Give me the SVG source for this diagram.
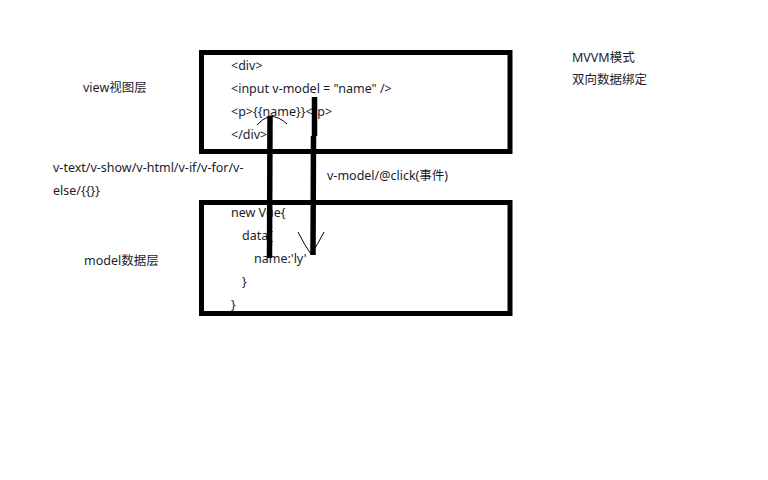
<svg xmlns="http://www.w3.org/2000/svg" width="768" height="480" viewBox="0 0 768 480">
<style>
text{font-family:"Noto Sans","Noto Sans CJK SC",sans-serif;font-size:12.5px;fill:#1c1c2c}
.box{fill:none;stroke:#000;stroke-width:5}
.thick{fill:none;stroke:#000;stroke-width:5.5;stroke-linecap:butt}
.thin{fill:none;stroke:#000;stroke-width:1}
</style>
<rect width="768" height="480" fill="#fff"/>
<g id="view-box">
<rect class="box" x="201.5" y="52.5" width="308.5" height="99"/>
<text x="231" y="70">&lt;div&gt;</text>
<text x="231" y="93">&lt;input v-model = "name" /&gt;</text>
<text x="231" y="116">&lt;p&gt;{{name}}&lt;/p&gt;</text>
<text x="231" y="139">&lt;/div&gt;</text>
</g>
<g id="model-box">
<rect class="box" x="201.5" y="202.5" width="308.5" height="111"/>
<text x="231" y="217">new Vue{</text>
<text x="242" y="240">data{</text>
<text x="254" y="263">name:'ly'</text>
<text x="242" y="286">}</text>
<text x="231" y="309">}</text>
</g>
<g id="labels">
<text x="83" y="92">view视图层</text>
<text x="53" y="172">v-text/v-show/v-html/v-if/v-for/v-</text>
<text x="53" y="195">else/{{}}</text>
<text x="84" y="265">model数据层</text>
<text x="327" y="180">v-model/@click(事件)</text>
<text x="572" y="62">MVVM模式</text>
<text x="572" y="84">双向数据绑定</text>
</g>
<g id="connectors">
<path class="thick" d="M270 116 L269.5 258"/>
<path class="thin" d="M257 125 Q262 119 270 116 Q280 117 287 124"/>
<path class="thick" d="M314.5 97 L314.5 136 M313.5 136 L313 255"/>
<path class="thin" d="M298 232 Q305 246 311 254 Q318 244 324 232"/>
</g>
</svg>
